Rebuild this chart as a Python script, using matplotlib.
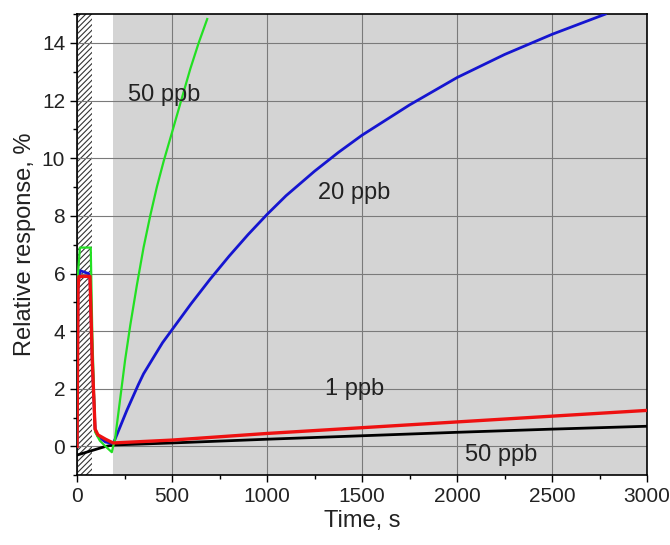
import matplotlib
matplotlib.use("Agg")
import matplotlib.pyplot as plt
from matplotlib.ticker import MultipleLocator

plt.rcParams['font.family'] = ['Liberation Sans', 'DejaVu Sans']
plt.rcParams['hatch.linewidth'] = 0.8

# time (s) and relative response (%)
black_t = [0, 50, 100, 150, 190, 500, 1000, 1500, 2000, 2500, 3000]
black_y = [-0.3, -0.2, -0.1, 0.0, 0.05, 0.12, 0.25, 0.37, 0.49, 0.6, 0.7]

red_t = [0, 5, 10, 68, 80, 95, 110, 150, 190, 500, 1000, 1500, 2000, 2500, 3000]
red_y = [0, 5.5, 5.9, 5.9, 3.0, 0.6, 0.4, 0.25, 0.12, 0.22, 0.45, 0.65, 0.85, 1.05, 1.25]

blue_t = [0, 5, 15, 60, 68, 80, 95, 110, 150, 190, 200, 262, 323, 350, 410, 450, 500, 550,
          600, 700, 800, 900, 1000, 1100, 1250, 1375, 1500, 1750, 2000, 2250, 2500, 2780]
blue_y = [0, 5.6, 6.1, 6.0, 5.9, 3.0, 0.6, 0.35, 0.15, 0.1, 0.25, 1.25, 2.15, 2.52, 3.17, 3.6,
          4.05, 4.5, 4.95, 5.8, 6.6, 7.35, 8.05, 8.7, 9.55, 10.2, 10.8, 11.85, 12.8, 13.6,
          14.3, 15.0]

green_t = [0, 5, 15, 72, 80, 95, 120, 150, 183, 190, 200, 253, 280, 315, 350, 385, 420, 456,
           500, 550, 596, 640, 685]
green_y = [0, 6.0, 6.9, 6.9, 4.0, 0.5, 0.2, 0.0, -0.2, 0.0, 0.25, 3.0, 4.2, 5.6, 6.9, 8.0,
           9.0, 9.9, 10.9, 12.05, 13.1, 14.0, 14.83]

labels = ['50 ppb', '20 ppb', '1 ppb', '50 ppb']
label_t = [268, 1270, 1305, 2040]
label_y = [12.2, 8.8, 2.0, -0.3]

fig = plt.figure(figsize=(6.7, 5.45), dpi=100)
ax = fig.add_axes([0.115, 0.128, 0.8507, 0.846])

# shaded phases
ax.axvspan(0, 80, facecolor='white', edgecolor='#333333', hatch='//////', lw=0, zorder=0)
ax.axvspan(190, 3000, facecolor='#d4d4d4', lw=0, zorder=0)

ax.grid(True, color='#7a7a7a', lw=0.8, zorder=1)
ax.set_axisbelow(True)

ax.plot(black_t, black_y, color='black', lw=2, zorder=3)
ax.plot(red_t, red_y, color='#ee1111', lw=2.4, zorder=4)
ax.plot(blue_t, blue_y, color='#1515d0', lw=2, zorder=3)
ax.plot(green_t, green_y, color='#22e022', lw=1.6, zorder=3)

for txt, tx, ty in zip(labels, label_t, label_y):
    ax.text(tx, ty, txt, fontsize=17, ha='left', va='center', color='#222222', zorder=5)

ax.set_xlim(0, 3000)
ax.set_ylim(-1, 15)
ax.xaxis.set_major_locator(MultipleLocator(500))
ax.xaxis.set_minor_locator(MultipleLocator(250))
ax.yaxis.set_major_locator(MultipleLocator(2))
ax.yaxis.set_minor_locator(MultipleLocator(1))
ax.tick_params(which='major', direction='out', length=5, width=1, labelsize=15, labelcolor='#222222')
ax.tick_params(which='minor', direction='out', length=3, width=1)
for s in ax.spines.values():
    s.set_linewidth(1.2)

ax.set_xlabel('Time, s', fontsize=17, color='#222222', labelpad=3)
ax.set_ylabel('Relative response, %', fontsize=17, color='#222222', labelpad=4)

plt.savefig('out.png', dpi=100)
